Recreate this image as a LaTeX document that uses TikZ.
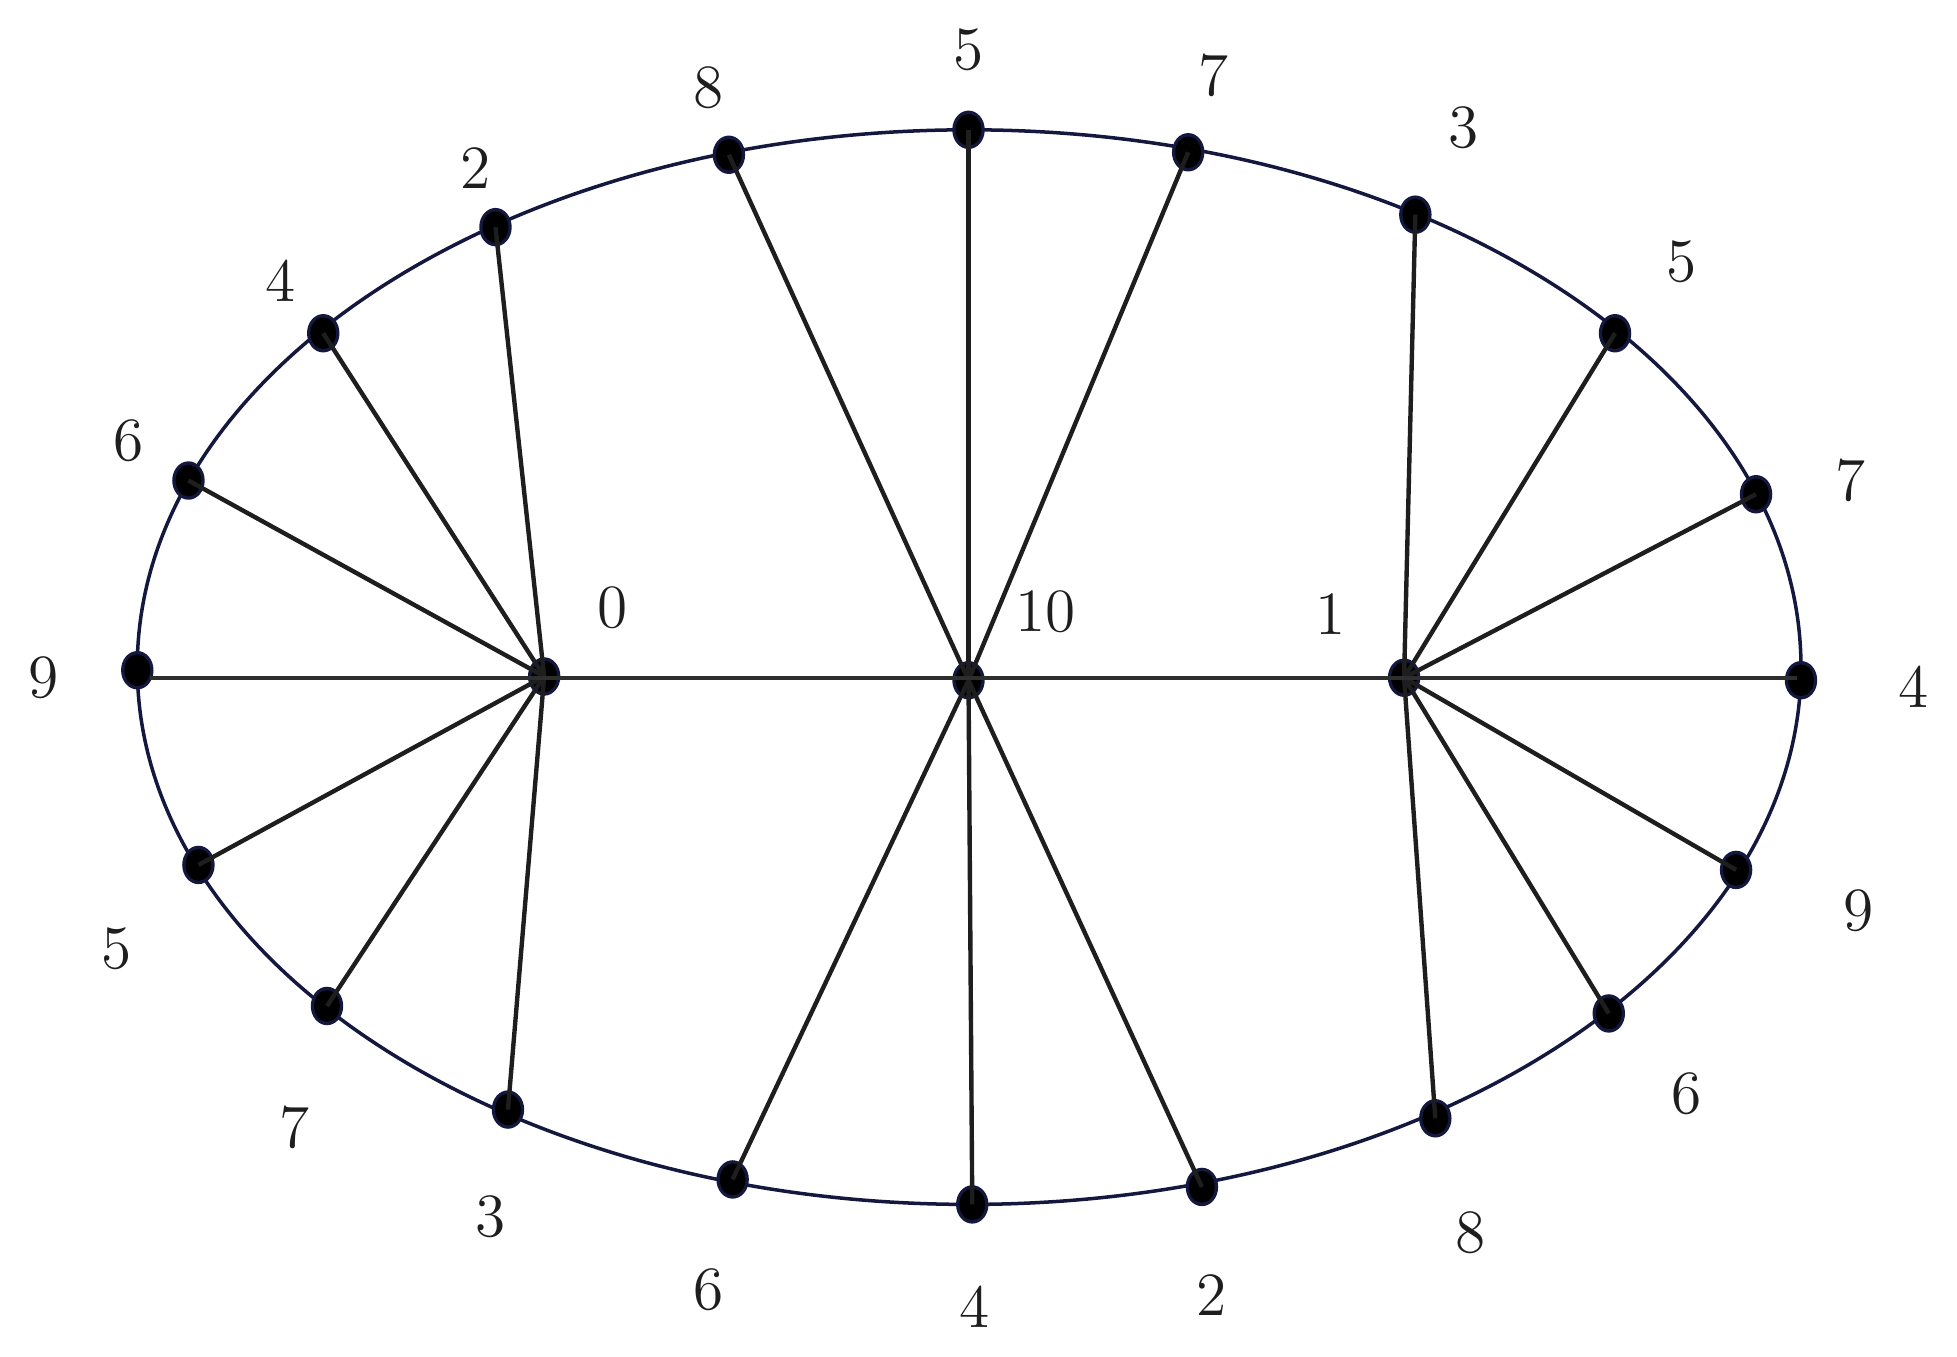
\documentclass[tikz,border=0pt]{standalone}
\usepackage{tikz}
\definecolor{navy}{HTML}{14183F}
\definecolor{linec}{HTML}{1E1E1E}
\definecolor{hline}{HTML}{2E2E2E}
\begin{document}
\begin{tikzpicture}[x=0.01cm,y=-0.01cm,
  spoke/.style={draw=linec,line width=1pt},
  lab/.style={font=\fontsize{14}{16}\selectfont,text=linec}]
\useasboundingbox (0,0) rectangle (1568,1087);
\draw[navy,line width=0.8pt] (776.5,534.5) ellipse [x radius=666.5, y radius=-430.5];
\coordinate (h0) at (436,542);
\coordinate (h10) at (776,545);
\coordinate (h1) at (1125,543);
\coordinate (hl) at (120,543);
\coordinate (hr) at (1440,543);
% perimeter points
\foreach \n/\x/\y in {a2/397/182, a4/259/267, a6/151/385, a9/110/537, a5/159/693, a7/262/806, a3/407/889,
  t8/584/124, t5/776/104, t7/952/122, b6/587/945, b4/779/965, b2/963/951,
  c3/1134/172, c5/1294/267, c7/1407/396, c4/1443/545, c9/1391/697, c6/1289/812, c8/1150/896}
  {\coordinate (\n) at (\x,\y);}
% dots
\foreach \p in {h0,h10,h1,a2,a4,a6,a9,a5,a7,a3,t8,t5,t7,b6,b4,b2,c3,c5,c7,c4,c9,c6,c8}
  {\fill[navy] (\p) ellipse [x radius=13, y radius=15.4];
   \fill[black] (\p) ellipse [x radius=10.3, y radius=12.7];}
% spokes
\foreach \p in {a2,a4,a6,a5,a7,a3} {\draw[spoke] (h0) -- (\p);}
\foreach \p in {t8,t5,t7,b6,b4,b2} {\draw[spoke] (h10) -- (\p);}
\foreach \p in {c3,c5,c7,c9,c6,c8} {\draw[spoke] (h1) -- (\p);}
\draw[spoke,draw=hline] (hl) -- (hr);
% labels
\foreach \t/\x/\y in {8/568/70, 5/776/40, 7/972/60, 3/1173/102, 5/1347/210, 7/1483/385, 4/1533/550,
  9/1489/730, 6/1351/876, 8/1178/988, 2/971/1038, 4/781/1047, 6/568/1033, 3/393/975, 7/236/903,
  5/93/760, 9/35/543, 6/103/353, 4/225/225, 2/381/135, 0/491/487, 10/838/490, 1/1066/492}
  {\node[lab] at (\x,\y) {\t};}
\end{tikzpicture}
\end{document}
